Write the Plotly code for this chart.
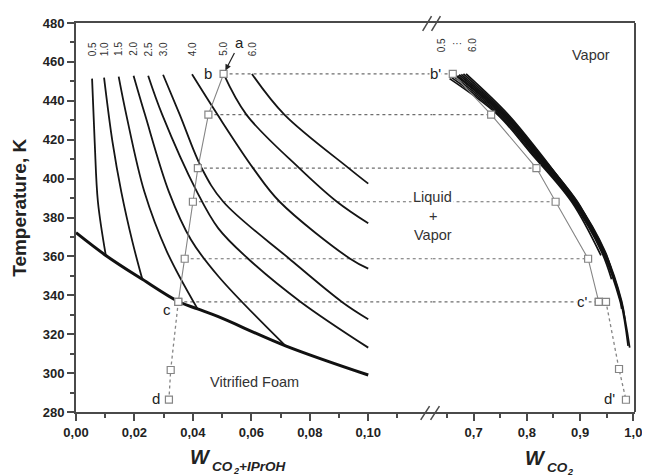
import plotly.graph_objects as go

# ---------------- data ----------------
ISO_NAMES = ["0.5", "1.0", "1.5", "2.0", "2.5", "3.0", "4.0", "5.0", "6.0"]

# liquid-side isopleths, left panel: w(CO2+IPrOH), T [K]
L05_W = [0.0055, 0.0064, 0.0075, 0.0102]
L05_T = [451.4, 418.7, 388.1, 360.5]
L10_W = [0.0096, 0.0125, 0.0155, 0.0193, 0.0227]
L10_T = [451.9, 418.7, 393.2, 367.6, 348.2]
L15_W = [0.0146, 0.0172, 0.0234, 0.0311, 0.0416]
L15_T = [452.4, 432.9, 393.2, 362.5, 333.0]
L20_W = [0.0197, 0.0236, 0.0318, 0.0393, 0.0487, 0.0717]
L20_T = [452.9, 432.9, 393.2, 368.7, 349.8, 314.0]
L25_W = [0.0247, 0.0295, 0.0414, 0.0487, 0.0589, 0.0769, 0.100]
L25_T = [452.9, 432.9, 393.2, 374.4, 358.8, 336.6, 313.1]
L30_W = [0.0298, 0.0355, 0.0430, 0.0504, 0.0730, 0.0910, 0.100]
L30_T = [453.4, 432.9, 405.4, 388.1, 358.8, 336.6, 327.7]
L40_W = [0.0397, 0.0484, 0.0606, 0.0697, 0.0938, 0.100]
L40_T = [453.6, 432.9, 405.4, 388.1, 358.8, 353.7]
L50_W = [0.0505, 0.0583, 0.0764, 0.0893, 0.100]
L50_T = [453.8, 432.9, 405.4, 388.1, 377.0]
L60_W = [0.0602, 0.0713, 0.0933, 0.100]
L60_T = [453.8, 432.9, 405.4, 397.4]

# vapour-side isopleths, right panel: w(CO2), T [K]
R05_W = [0.655, 0.745, 0.806, 0.884, 0.939]
R05_T = [451.4, 432.9, 413.6, 388.1, 360.5]
R10_W = [0.659, 0.748, 0.809, 0.886, 0.940, 0.959]
R10_T = [451.9, 432.9, 413.6, 388.1, 362.5, 348.2]
R15_W = [0.663, 0.751, 0.812, 0.888, 0.942, 0.975, 0.978]
R15_T = [452.4, 432.9, 413.6, 388.1, 362.5, 337.0, 333.0]
R20_W = [0.667, 0.754, 0.814, 0.890, 0.944, 0.976, 0.990]
R20_T = [452.9, 432.9, 413.6, 388.1, 362.5, 337.0, 314.0]
R25_W = [0.670, 0.756, 0.816, 0.892, 0.945, 0.977, 0.993]
R25_T = [452.9, 432.9, 413.6, 388.1, 362.5, 337.0, 313.1]
R30_W = [0.673, 0.758, 0.818, 0.893, 0.946, 0.978, 0.984]
R30_T = [453.4, 432.9, 413.6, 388.1, 362.5, 337.0, 327.7]
R40_W = [0.677, 0.760, 0.820, 0.894, 0.947, 0.958]
R40_T = [453.6, 432.9, 413.6, 388.1, 362.5, 353.7]
R50_W = [0.681, 0.762, 0.821, 0.895, 0.917]
R50_T = [453.8, 432.9, 413.6, 388.1, 377.0]
R60_W = [0.686, 0.765, 0.823, 0.868]
R60_T = [453.8, 432.9, 413.6, 397.4]

# vitrification boundary
VIT_W = [0.0, 0.0102, 0.0227, 0.0350, 0.0416, 0.0487, 0.0717, 0.100]
VIT_T = [372.2, 360.5, 348.2, 336.8, 333.0, 329.0, 314.0, 299.0]

# process path b -> c (tie lines) and c -> d
PATH_T = [453.8, 432.9, 405.4, 388.1, 358.8, 336.6]
PATH_L_W = [0.0505, 0.0453, 0.0417, 0.0400, 0.0372, 0.0350]
PATH_R_W = [0.661, 0.733, 0.818, 0.854, 0.915, 0.935]
LOW_L_W = [0.0350, 0.0324, 0.0318]
LOW_L_T = [336.6, 301.6, 286.4]
LOW_R_W = [0.935, 0.9486, 0.973, 0.986]
LOW_R_T = [336.6, 336.6, 302.1, 286.3]

# axes
XL_MAX = 0.122
XR_MIN = 0.623
XR_MAX = 1.003
Y_RANGE = [280, 480]
TICKS_L = [0.00, 0.02, 0.04, 0.06, 0.08, 0.10]
MINOR_L = [0.01, 0.03, 0.05, 0.07, 0.09, 0.11]
TICKS_R = [0.7, 0.8, 0.9, 1.0]
MINOR_R = [0.65, 0.75, 0.85, 0.95]

LEFT_W = [L05_W, L10_W, L15_W, L20_W, L25_W, L30_W, L40_W, L50_W, L60_W]
LEFT_T = [L05_T, L10_T, L15_T, L20_T, L25_T, L30_T, L40_T, L50_T, L60_T]
RIGHT_W = [R05_W, R10_W, R15_W, R20_W, R25_W, R30_W, R40_W, R50_W, R60_W]
RIGHT_T = [R05_T, R10_T, R15_T, R20_T, R25_T, R30_T, R40_T, R50_T, R60_T]

# ---------------- figure ----------------
OFF = 8                      # default page body margin of the browser
W, H = 650 - OFF, 476 - OFF
ML, MR, MT, MB = 76 - OFF, 8, 20 - OFF, 64
PW, PH = W - ML - MR, H - MT - MB
PLOT_L, PLOT_B = 76, 20 + PH  # page coordinates of plot-area edges
DOM_SPLIT = (437 - PLOT_L) / PW
AXC = '#4a4a4a'
GRAY = '#858585'
DOT = '#6e6e6e'
FONT = 'Liberation Sans, Arial, sans-serif'


def px(x):
    return (x - PLOT_L) / PW


def py(y):
    return (PLOT_B - y) / PH


fig = go.Figure()

# tie lines (dotted), split over the axis break
for wl, wr, t in zip(PATH_L_W, PATH_R_W, PATH_T):
    fig.add_trace(go.Scatter(x=[wl, XL_MAX], y=[t, t], mode='lines',
                             line=dict(color=DOT, width=1.2, dash='dot'),
                             xaxis='x', yaxis='y', hoverinfo='skip'))
    fig.add_trace(go.Scatter(x=[XR_MIN, wr], y=[t, t], mode='lines',
                             line=dict(color=DOT, width=1.2, dash='dot'),
                             xaxis='x2', yaxis='y', hoverinfo='skip'))

# vitrification line
fig.add_trace(go.Scatter(x=VIT_W, y=VIT_T, mode='lines',
                         line=dict(color='#111', width=3, shape='spline'),
                         xaxis='x', yaxis='y'))

# isopleths
for wv, tv in zip(LEFT_W, LEFT_T):
    fig.add_trace(go.Scatter(x=wv, y=tv, mode='lines',
                             line=dict(color='#151515', width=1.8, shape='spline'),
                             xaxis='x', yaxis='y'))
for wv, tv in zip(RIGHT_W, RIGHT_T):
    fig.add_trace(go.Scatter(x=wv, y=tv, mode='lines',
                             line=dict(color='#111', width=1.7, shape='spline'),
                             xaxis='x2', yaxis='y'))

# process path
mk = dict(symbol='square', size=7, color='white', line=dict(color=GRAY, width=1.2))
fig.add_trace(go.Scatter(x=PATH_L_W, y=PATH_T, mode='lines+markers',
                         line=dict(color=GRAY, width=1.1), marker=mk,
                         xaxis='x', yaxis='y'))
fig.add_trace(go.Scatter(x=LOW_L_W, y=LOW_L_T, mode='lines+markers',
                         line=dict(color=GRAY, width=1.3, dash='dot'), marker=mk,
                         xaxis='x', yaxis='y'))
fig.add_trace(go.Scatter(x=PATH_R_W, y=PATH_T, mode='lines+markers',
                         line=dict(color=GRAY, width=1.1), marker=mk,
                         xaxis='x2', yaxis='y'))
fig.add_trace(go.Scatter(x=LOW_R_W, y=LOW_R_T, mode='lines+markers',
                         line=dict(color=GRAY, width=1.3, dash='dot'), marker=mk,
                         xaxis='x2', yaxis='y'))

ann = []
# isopleth labels (rotated)
for name, wv in zip(ISO_NAMES, LEFT_W):
    ann.append(dict(x=wv[0], y=466.5, xref='x', yref='y', text=name, showarrow=False,
                    textangle=-90, font=dict(size=10, color='#333')))
ann.append(dict(x=0.6387, y=468.5, xref='x2', yref='y', text='0.5', showarrow=False,
                textangle=-90, font=dict(size=10, color='#333')))
ann.append(dict(x=0.6982, y=468.5, xref='x2', yref='y', text='6.0', showarrow=False,
                textangle=-90, font=dict(size=10, color='#333')))
ann.append(dict(x=0.6685, y=469.5, xref='x2', yref='y', text='···', showarrow=False,
                font=dict(size=10, color='#333')))

# point letters
lab = dict(showarrow=False, font=dict(size=15, color='#222'), bgcolor='white', borderpad=0)
ann.append(dict(x=PATH_L_W[0], y=PATH_T[0], xref='x', yref='y', text='a',
                showarrow=True, ax=16, ay=-31, arrowhead=2, arrowsize=1,
                arrowwidth=1.2, arrowcolor='#222', standoff=4,
                font=dict(size=15, color='#222')))
ann.append(dict(x=0.0453, y=PATH_T[0], xref='x', yref='y', text='b', **lab))
ann.append(dict(x=0.0312, y=332.7, xref='x', yref='y', text='c', **lab))
ann.append(dict(x=0.0273, y=286.8, xref='x', yref='y', text='d', **lab))
ann.append(dict(x=0.6285, y=PATH_T[0], xref='x2', yref='y', text="b'", **lab))
ann.append(dict(x=0.9044, y=PATH_T[-1], xref='x2', yref='y', text="c'", **lab))
ann.append(dict(x=0.9547, y=286.8, xref='x2', yref='y', text="d'", **lab))

# region labels
reg = dict(font=dict(size=14.5, color='#333'), showarrow=False)
ann.append(dict(x=0.9197, y=463.8, xref='x2', yref='y', text='Vapor', **reg))
ann.append(dict(x=0.0611, y=295.3, xref='x', yref='y', text='Vitrified Foam', **reg))
ann.append(dict(x=XL_MAX, y=390.5, xref='x', yref='y', text='Liquid', bgcolor='white',
                borderpad=1, **reg))
ann.append(dict(x=XL_MAX, y=381.0, xref='x', yref='y', text='+', **reg))
ann.append(dict(x=XL_MAX, y=370.8, xref='x', yref='y', text='Vapor', **reg))

# axis titles (bold / bold-italic through the font, no markup tags)
pap = dict(xref='paper', yref='paper', showarrow=False, yanchor='middle', borderpad=0)
ann.append(dict(x=px(18.5), y=py(206), text='Temperature, K', textangle=-90, xanchor='center',
                font=dict(size=19, color='#222', weight='bold'), **pap))
wfont = dict(size=20, color='#222', weight='bold', style='italic')
sfont = dict(size=13.5, color='#222', weight='bold', style='italic')
s2font = dict(size=9, color='#222', weight='bold', style='italic')
# left title: W + CO + 2 + "+IPrOH"
ann.append(dict(x=px(214), y=py(457.5), xanchor='right', text='W', font=wfont, **pap))
ann.append(dict(x=px(212.5), y=py(467), xanchor='left', text='CO', font=sfont, **pap))
ann.append(dict(x=px(233.5), y=py(471.5), xanchor='left', text='2', font=s2font, **pap))
ann.append(dict(x=px(240.5), y=py(467), xanchor='left', text='+IPrOH', font=sfont, **pap))
# right title: W + CO + 2
ann.append(dict(x=px(553), y=py(458.5), xanchor='right', text='W', font=wfont, **pap))
ann.append(dict(x=px(551.5), y=py(468), xanchor='left', text='CO', font=sfont, **pap))
ann.append(dict(x=px(572.5), y=py(472.5), xanchor='left', text='2', font=s2font, **pap))

shapes = [
    dict(type='line', xref='paper', yref='paper', x0=1, x1=1, y0=0, y1=1,
         line=dict(color=AXC, width=2)),
    dict(type='line', xref='paper', yref='paper', x0=px(427), x1=px(436), y0=py(28), y1=py(13),
         line=dict(color=AXC, width=1.5)),
    dict(type='line', xref='paper', yref='paper', x0=px(436), x1=px(445), y0=py(28), y1=py(13),
         line=dict(color=AXC, width=1.5)),
    dict(type='line', xref='paper', yref='paper', x0=px(425), x1=px(434), y0=py(420), y1=py(406),
         line=dict(color=AXC, width=1.5)),
    dict(type='line', xref='paper', yref='paper', x0=px(435), x1=px(444), y0=py(420), y1=py(406),
         line=dict(color=AXC, width=1.5)),
]

tickfont = dict(size=13, color='#222', family=FONT, weight='bold')
common = dict(ticks='outside', ticklen=7, tickwidth=1.5, tickcolor=AXC, showline=True,
              linecolor=AXC, linewidth=2, showgrid=False, zeroline=False, tickfont=tickfont)
minor = dict(ticks='outside', ticklen=4, tickwidth=1.5, tickcolor=AXC, showgrid=False)

fig.update_layout(
    width=W, height=H, margin=dict(l=ML, r=MR, t=MT, b=MB),
    paper_bgcolor='white', plot_bgcolor='white', showlegend=False,
    separators=', ', font=dict(family=FONT, color='#222'),
    xaxis=dict(domain=[0, DOM_SPLIT], range=[0, XL_MAX], tickmode='array', tickvals=TICKS_L,
               tickformat='.2f', mirror=True, anchor='y',
               minor=dict(tickmode='array', tickvals=MINOR_L, **minor), **common),
    xaxis2=dict(domain=[DOM_SPLIT, 1], range=[XR_MIN, XR_MAX], tickmode='array', tickvals=TICKS_R,
                tickformat='.1f', mirror=True, anchor='y',
                minor=dict(tickmode='array', tickvals=MINOR_R, **minor), **common),
    yaxis=dict(range=Y_RANGE, tick0=280, dtick=20, anchor='x',
               minor=dict(dtick=10, **minor), **common),
    annotations=ann, shapes=shapes,
)

fig.write_html('out.html')
